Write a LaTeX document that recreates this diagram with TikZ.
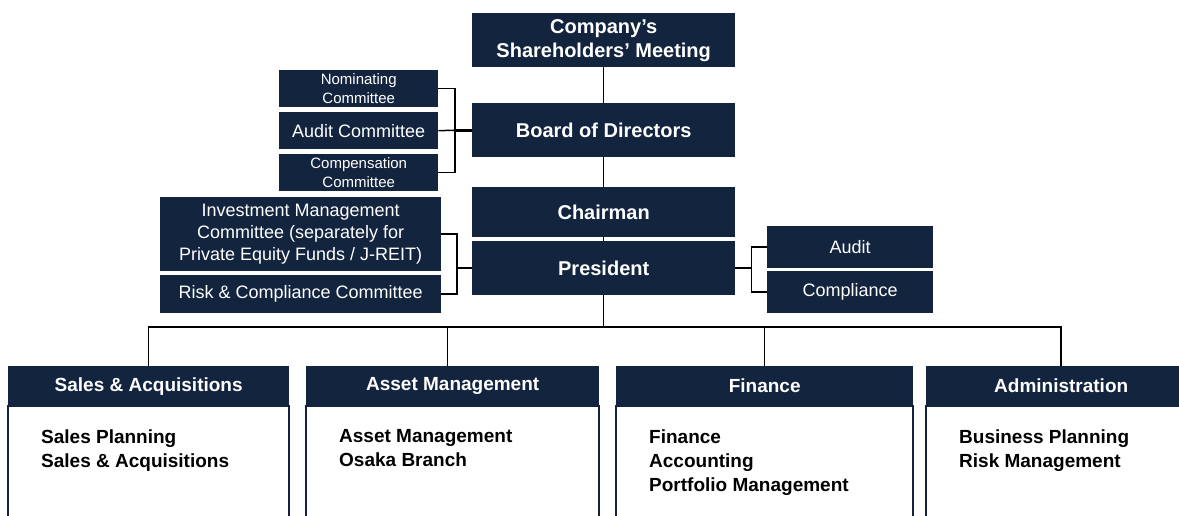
\documentclass[tikz,border=0pt]{standalone}
\usepackage{fontspec}
\setmainfont{Liberation Sans}
\usepackage{xcolor}
\usetikzlibrary{positioning}
\definecolor{navyblue}{HTML}{13243F}

\begin{document}
\begin{tikzpicture}[x=1pt,y=-1pt,
	box/.style={fill=navyblue,text=white,inner sep=0pt,anchor=north west,align=center},
	top/.style={box,minimum width=263,font=\fontsize{20}{24}\selectfont\bfseries},
	head/.style={box,font=\fontsize{19}{24}\selectfont\bfseries},
	cmte/.style={box,font=\fontsize{18}{22}\selectfont},
	small/.style={box,font=\fontsize{15}{19}\selectfont},
	link/.style={draw=black,line width=1.5pt},
	frame/.style={draw=navyblue,line width=2.2pt,fill=white},
	list/.style={anchor=north west,align=left,inner sep=0pt,font=\fontsize{19}{24}\selectfont\bfseries}]

\useasboundingbox (0,0) rectangle (1179,515);
\clip (0,0) rectangle (1179,515);

\node[top,minimum height=54] (meet) at (472,13) {Company’s\\Shareholders’ Meeting};
\node[top,minimum height=54] (board) at (472,103) {Board of Directors};
\node[top,minimum height=50] (chair) at (472,187) {Chairman};
\node[top,minimum height=54] (pres) at (472,241) {President};

\node[small,minimum width=159,minimum height=37] (nomc) at (279,70) {Nominating\\Committee};
\node[cmte,minimum width=159,minimum height=37] (audc) at (279,112) {Audit Committee};
\node[small,minimum width=159,minimum height=37] (comc) at (279,154) {Compensation\\Committee};

\node[cmte,minimum width=281,minimum height=74] (invc) at (160,197) {Investment Management\\Committee (separately for\\Private Equity Funds / J-REIT)};
\node[cmte,minimum width=281,minimum height=38] (risk) at (160,275) {Risk \& Compliance Committee};

\node[cmte,minimum width=166,minimum height=42] (audit) at (767,226) {Audit};
\node[cmte,minimum width=166,minimum height=42] (compl) at (767,271) {Compliance};

\draw[link] (meet.south)--(board.north);
\draw[link] (board.south)--(chair.north);
\draw[link] (chair.south)--(pres.north);

\coordinate (cmtj) at ([xshift=-17pt]board.west);
\draw[link] (nomc.east) -| (cmtj) |- (comc.east);
\draw[link] (audc.east)--(cmtj);
\draw[link,line width=3pt] (cmtj)--(board.west);

\coordinate (presl) at ([xshift=-15pt]pres.west);
\draw[link] (invc.east) -| (presl) |- (risk.east);
\draw[link] (presl)--(pres.west);

\coordinate (presr) at ([xshift=16pt]pres.east);
\draw[link] (audit.west) -| (presr) |- (compl.west);
\draw[link] (pres.east)--(presr);

\foreach \nm/\x/\w/\hd/\ls in {
	sales/8/281/{Sales \& Acquisitions}/{Sales Planning\\Sales \& Acquisitions},
	asset/306/293/{Asset Management}/{Asset Management\\Osaka Branch},
	fin/616/297/{Finance}/{Finance\\Accounting\\Portfolio Management},
	admin/926/270/{Administration}/{Business Planning\\Risk Management}}{
	\draw[frame](\x,406) rectangle ++(\w,140);
	\node[head,minimum width=\w,minimum height=40] (\nm) at (\x,366) {\hd};
	\node[list] (\nm L) at ([xshift=33pt,yshift=-23pt]\nm.south west) {\ls};
}

\coordinate (bus) at (0,327);
\draw[link] (pres.south)--(pres.south |- bus);
\draw[link] (sales.north) |- (admin.north |- bus)--(admin.north);
\draw[link] ([xshift=-5pt]asset.north)--([xshift=-5pt]asset.north |- bus);
\draw[link] (fin.north)--(fin.north |- bus);
\end{tikzpicture}
\end{document}
